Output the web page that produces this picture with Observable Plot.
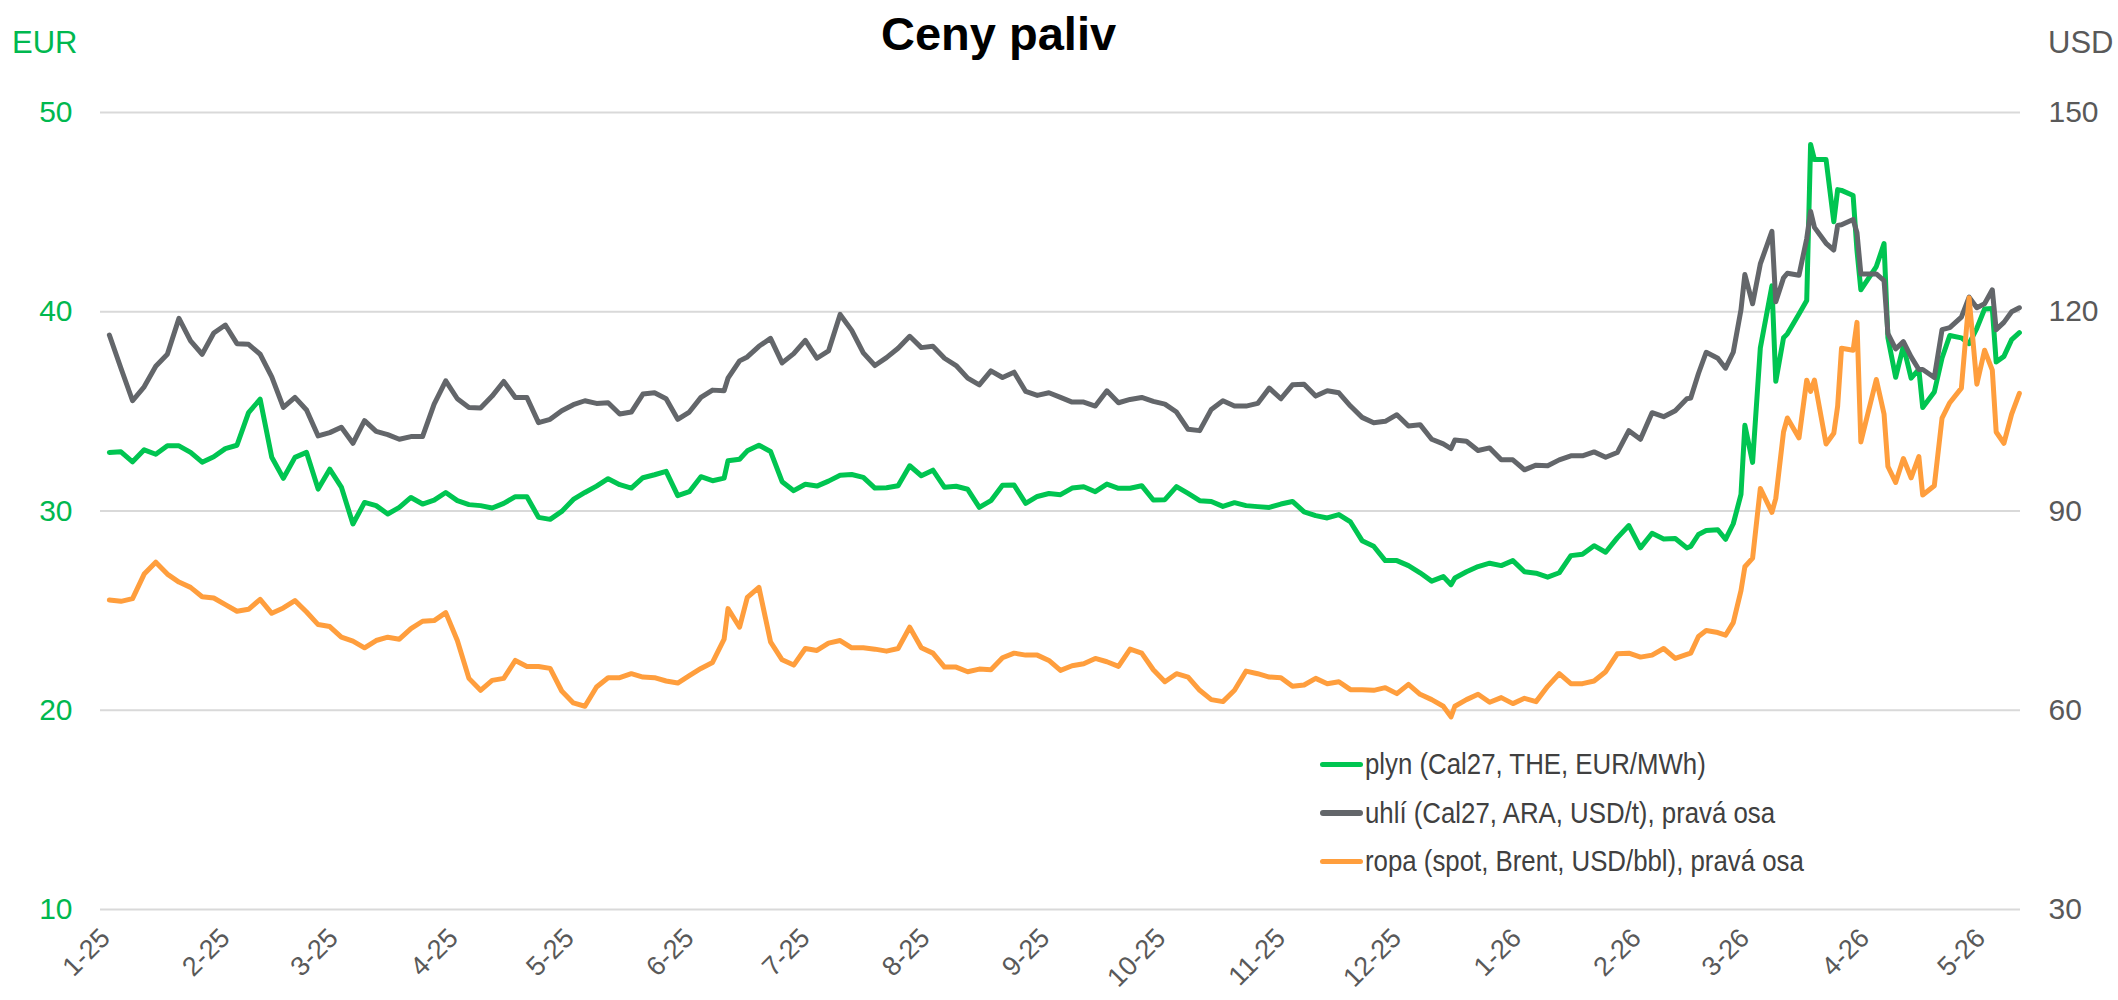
<!DOCTYPE html>
<html>
<head>
<meta charset="utf-8">
<script src="https://cdn.jsdelivr.net/npm/d3@7"></script>
<script src="https://cdn.jsdelivr.net/npm/@observablehq/plot@0.6"></script>
<style>
  body { margin: 0; background: #fff; font-family: "Liberation Sans", Arial, sans-serif; }
  #wrap { position: relative; width: 2118px; height: 1000px; overflow: hidden; }
  #head { position: relative; height: 70px; }
  #title { position: absolute; left: 881px; top: 10px; font-weight: bold; font-size: 47px; line-height: 47px; color: #000; white-space: nowrap; }
  #eur { position: absolute; left: 12px; top: 27px; font-size: 31px; line-height: 31px; color: #00b84f; }
  #usd { position: absolute; left: 2048px; top: 27px; font-size: 31px; line-height: 31px; color: #595959; }
  #legend { position: absolute; left: 1320px; top: 740px; }
  .row { display: flex; align-items: center; height: 48.5px; }
  .sw { width: 43px; height: 5.5px; border-radius: 3px; margin-right: 2px; }
  .lab { font-size: 30px; color: #404040; white-space: nowrap; transform: scaleX(0.86); transform-origin: left center; }
</style>
</head>
<body>
<div id="wrap">
  <div id="head">
    <div id="eur">EUR</div>
    <div id="title">Ceny paliv</div>
    <div id="usd">USD</div>
  </div>
  <div id="chart"></div>
  <div id="legend"></div>
</div>
<script>
// ---- data (gas in EUR/MWh, coal & oil in USD) ----
const dates = [
"2025-01-02","2025-01-05","2025-01-08","2025-01-11","2025-01-14","2025-01-17","2025-01-20","2025-01-23","2025-01-26","2025-01-29",
"2025-02-01","2025-02-04","2025-02-07","2025-02-10","2025-02-13","2025-02-16","2025-02-19","2025-02-22","2025-02-25","2025-02-28",
"2025-03-03","2025-03-06","2025-03-09","2025-03-12","2025-03-15","2025-03-18","2025-03-21","2025-03-24","2025-03-27","2025-03-30",
"2025-04-02","2025-04-05","2025-04-08","2025-04-11","2025-04-14","2025-04-17","2025-04-20","2025-04-23","2025-04-26","2025-04-29",
"2025-05-02","2025-05-05","2025-05-08","2025-05-11","2025-05-14","2025-05-17","2025-05-20","2025-05-23","2025-05-26","2025-05-29",
"2025-06-01","2025-06-04","2025-06-07","2025-06-10","2025-06-11","2025-06-14","2025-06-16","2025-06-19","2025-06-22","2025-06-25",
"2025-06-28","2025-07-01","2025-07-04","2025-07-07","2025-07-10","2025-07-13","2025-07-16","2025-07-19","2025-07-22","2025-07-25",
"2025-07-28","2025-07-31","2025-08-03","2025-08-06","2025-08-09","2025-08-12","2025-08-15","2025-08-18","2025-08-21","2025-08-24",
"2025-08-27","2025-08-30","2025-09-02","2025-09-05","2025-09-08","2025-09-11","2025-09-14","2025-09-17","2025-09-20","2025-09-23",
"2025-09-26","2025-09-29","2025-10-02","2025-10-05","2025-10-08","2025-10-11","2025-10-14","2025-10-17","2025-10-20","2025-10-23",
"2025-10-26","2025-10-29","2025-11-01","2025-11-04","2025-11-07","2025-11-10","2025-11-13","2025-11-16","2025-11-19","2025-11-22",
"2025-11-25","2025-11-28","2025-12-01","2025-12-04","2025-12-07","2025-12-10","2025-12-13","2025-12-15","2025-12-16","2025-12-19",
"2025-12-22","2025-12-25","2025-12-28","2025-12-31","2026-01-03","2026-01-06","2026-01-09","2026-01-12","2026-01-15","2026-01-18",
"2026-01-21","2026-01-24","2026-01-27","2026-01-30","2026-02-02","2026-02-05","2026-02-08","2026-02-11","2026-02-14","2026-02-15",
"2026-02-17","2026-02-19","2026-02-22","2026-02-24","2026-02-26","2026-02-28","2026-03-01","2026-03-03","2026-03-05","2026-03-08",
"2026-03-09","2026-03-11","2026-03-12","2026-03-15","2026-03-17","2026-03-18","2026-03-19","2026-03-22","2026-03-24","2026-03-25",
"2026-03-26","2026-03-29","2026-03-30","2026-03-31","2026-04-04","2026-04-06","2026-04-07","2026-04-09","2026-04-11","2026-04-13",
"2026-04-15","2026-04-16","2026-04-19","2026-04-21","2026-04-23","2026-04-26","2026-04-28","2026-04-30","2026-05-02","2026-05-04",
"2026-05-05","2026-05-07","2026-05-09","2026-05-11"
];

const gas = [
32.94,32.97,32.47,33.07,32.85,33.27,33.27,32.94,32.45,32.72,
33.13,33.3,34.94,35.61,32.7,31.64,32.69,32.94,31.1,32.1,
31.2,29.35,30.43,30.27,29.85,30.18,30.68,30.35,30.55,30.93,
30.52,30.32,30.27,30.15,30.38,30.72,30.72,29.68,29.58,29.98,
30.58,30.93,31.25,31.62,31.32,31.15,31.67,31.82,31.99,30.77,
30.97,31.72,31.52,31.65,32.52,32.6,33.02,33.3,32.99,31.47,
31.02,31.34,31.25,31.5,31.79,31.83,31.69,31.15,31.17,31.27,
32.27,31.77,32.05,31.19,31.24,31.09,30.18,30.52,31.29,31.30,
30.38,30.73,30.88,30.82,31.15,31.22,30.97,31.35,31.14,31.14,
31.27,30.55,30.57,31.22,30.88,30.52,30.48,30.23,30.42,30.27,
30.22,30.18,30.35,30.48,29.96,29.77,29.65,29.82,29.45,28.51,
28.23,27.51,27.51,27.26,26.9,26.48,26.71,26.3,26.64,26.95,
27.21,27.38,27.26,27.51,26.95,26.88,26.68,26.9,27.76,27.83,
28.26,27.93,28.65,29.27,28.15,28.88,28.60,28.62,28.15,28.22,
28.82,29.02,29.06,28.58,29.36,30.83,34.30,32.44,38.18,41.30,
36.51,38.69,38.89,39.89,40.56,48.4,47.64,47.64,44.52,46.13,
46.09,45.83,43.07,41.10,42.27,43.42,38.69,36.71,38.28,36.67,
37.11,35.20,35.97,37.68,38.81,38.69,38.40,39.17,40.14,40.16,
37.48,37.76,38.60,38.95
];

const coal = [
116.5,111.5,106.6,108.7,111.8,113.6,119.0,115.6,113.6,116.8,
118.0,115.2,115.1,113.6,110.2,105.6,107.1,105.2,101.3,101.8,
102.6,100.2,103.6,102.0,101.5,100.8,101.2,101.2,106.1,109.6,
106.9,105.6,105.5,107.3,109.5,107.1,107.1,103.3,103.8,105.1,
106.0,106.6,106.2,106.3,104.6,104.9,107.6,107.8,106.9,103.8,
104.9,107.1,108.2,108.1,110.0,112.6,113.2,114.8,116.0,112.3,
113.7,115.7,113.0,114.1,119.6,117.2,113.8,111.9,113.1,114.5,
116.3,114.6,114.8,113.0,111.9,110.0,109.0,111.1,110.1,110.9,
108.0,107.4,107.8,107.1,106.4,106.4,105.8,108.1,106.3,106.8,
107.1,106.5,106.1,104.9,102.3,102.1,105.3,106.6,105.8,105.8,
106.2,108.5,106.9,109.0,109.1,107.3,108.1,107.8,105.8,104.1,
103.3,103.5,104.5,102.8,103.0,100.8,100.1,99.4,100.7,100.5,
99.1,99.5,97.7,97.7,96.2,96.9,96.8,97.7,98.3,98.3,
98.9,98.1,98.8,102.1,100.8,104.8,104.2,105.1,106.9,107.0,
110.7,113.9,113.0,111.5,113.9,120.3,125.6,121.2,127.2,132.1,
121.5,125.1,125.8,125.5,131.0,135.1,132.7,130.3,129.3,133.0,
133.1,133.9,131.9,125.7,125.7,124.7,116.7,114.4,115.5,113.2,
111.3,111.3,110.1,117.3,117.6,119.2,122.2,120.6,121.2,123.3,
117.3,118.4,120.0,120.6
];

const oil = [
76.6,76.4,76.8,80.5,82.3,80.5,79.3,78.5,77.1,76.9,
75.9,74.9,75.2,76.7,74.6,75.4,76.5,74.8,72.9,72.6,
71.0,70.4,69.4,70.5,71.0,70.7,72.3,73.4,73.5,74.7,
70.5,64.8,63.0,64.5,64.8,67.5,66.6,66.6,66.3,62.9,
61.1,60.6,63.5,64.9,64.9,65.5,65.0,64.9,64.4,64.1,
65.2,66.3,67.2,70.7,75.3,72.5,77.0,78.5,70.3,67.6,
66.8,69.3,69.0,70.1,70.5,69.4,69.4,69.2,68.9,69.3,
72.5,69.4,68.6,66.5,66.5,65.8,66.2,66.1,67.9,68.6,
68.3,68.3,67.5,66.0,66.7,67.0,67.8,67.3,66.6,69.2,
68.6,66.1,64.3,65.5,65.0,63.0,61.6,61.3,63.0,65.9,
65.5,65.0,64.9,63.6,63.8,64.8,64.0,64.3,63.1,63.1,
63.0,63.4,62.5,63.9,62.4,61.6,60.6,59.0,60.6,61.6,
62.4,61.2,61.9,61.0,61.8,61.3,63.6,65.5,64.0,64.0,
64.4,65.8,68.5,68.6,68.0,68.3,69.3,67.8,68.4,68.6,
71.1,72.0,71.7,71.3,73.2,78.0,81.6,82.9,93.4,89.8,
91.9,101.9,104.0,101.0,109.7,108.0,109.7,100.1,101.7,105.8,
114.5,114.2,118.4,100.4,109.8,104.6,96.7,94.3,97.9,95.0,
98.2,92.4,93.8,104.0,106.3,108.5,122.1,109.1,114.2,111.2,
101.9,100.2,104.6,107.7
];

const monthTicks = [
"2025-01-01","2025-02-01","2025-03-01","2025-04-01","2025-05-01","2025-06-01",
"2025-07-01","2025-08-01","2025-09-01","2025-10-01","2025-11-01","2025-12-01",
"2026-01-01","2026-02-01","2026-03-01","2026-04-01","2026-05-01"
];
const eurTicks = [10, 20, 30, 40, 50];
const seriesNames = ["plyn (Cal27, THE, EUR/MWh)", "uhlí (Cal27, ARA, USD/t), pravá osa", "ropa (spot, Brent, USD/bbl), pravá osa"];
const seriesColors = ["#00c551", "#63666a", "#ff9e3d"];
const usdPerEur = 3; // right axis = 3 x left axis

// ---- build table ----
const rows = dates.map((d, i) => ({
  date: new Date(d + "T00:00:00Z"),
  gas: gas[i], coal: coal[i], oil: oil[i]
}));

const font = "'Liberation Sans', Arial, sans-serif";
const lineOpts = { x: "date", strokeWidth: 5, strokeLinejoin: "round", strokeLinecap: "round" };
const chart = Plot.plot({
  width: 2118,
  height: 930,
  marginTop: 42,
  marginBottom: 91,
  marginLeft: 100,
  marginRight: 98,
  style: { fontFamily: font, background: "#fff", overflow: "visible" },
  x: { type: "utc", domain: [new Date("2024-12-30T17:00:00Z"), new Date("2026-05-11T07:00:00Z")] },
  y: { domain: [10, 50] },
  marks: [
    Plot.gridY(eurTicks, { stroke: "#d9d9d9", strokeOpacity: 1, strokeWidth: 2 }),
    Plot.axisY(eurTicks, { anchor: "left", tickSize: 0, tickPadding: 28, fontSize: 30, color: "#00b84f", label: null }),
    Plot.axisY(eurTicks, { anchor: "right", tickSize: 0, tickPadding: 28, fontSize: 30, color: "#595959", label: null,
      tickFormat: d => d * usdPerEur }),
    Plot.axisX(monthTicks.map(s => new Date(s + "T00:00:00Z")), {
      tickSize: 0, tickPadding: 24, tickRotate: -45, fontSize: 27, color: "#595959", label: null,
      tickFormat: d3.utcFormat("%-m-%y")
    }),
    Plot.line(rows, { ...lineOpts, y: "gas", stroke: seriesColors[0] }),
    Plot.line(rows, { ...lineOpts, y: d => d.coal / usdPerEur, stroke: seriesColors[1] }),
    Plot.line(rows, { ...lineOpts, y: d => d.oil / usdPerEur, stroke: seriesColors[2] })
  ]
});
document.getElementById("chart").appendChild(chart);

// legend
const leg = document.getElementById("legend");
seriesNames.forEach((n, i) => {
  const r = document.createElement("div");
  r.className = "row";
  r.innerHTML = `<div class="sw" style="background:${seriesColors[i]}"></div><div class="lab">${n}</div>`;
  leg.appendChild(r);
});
</script>
</body>
</html>
